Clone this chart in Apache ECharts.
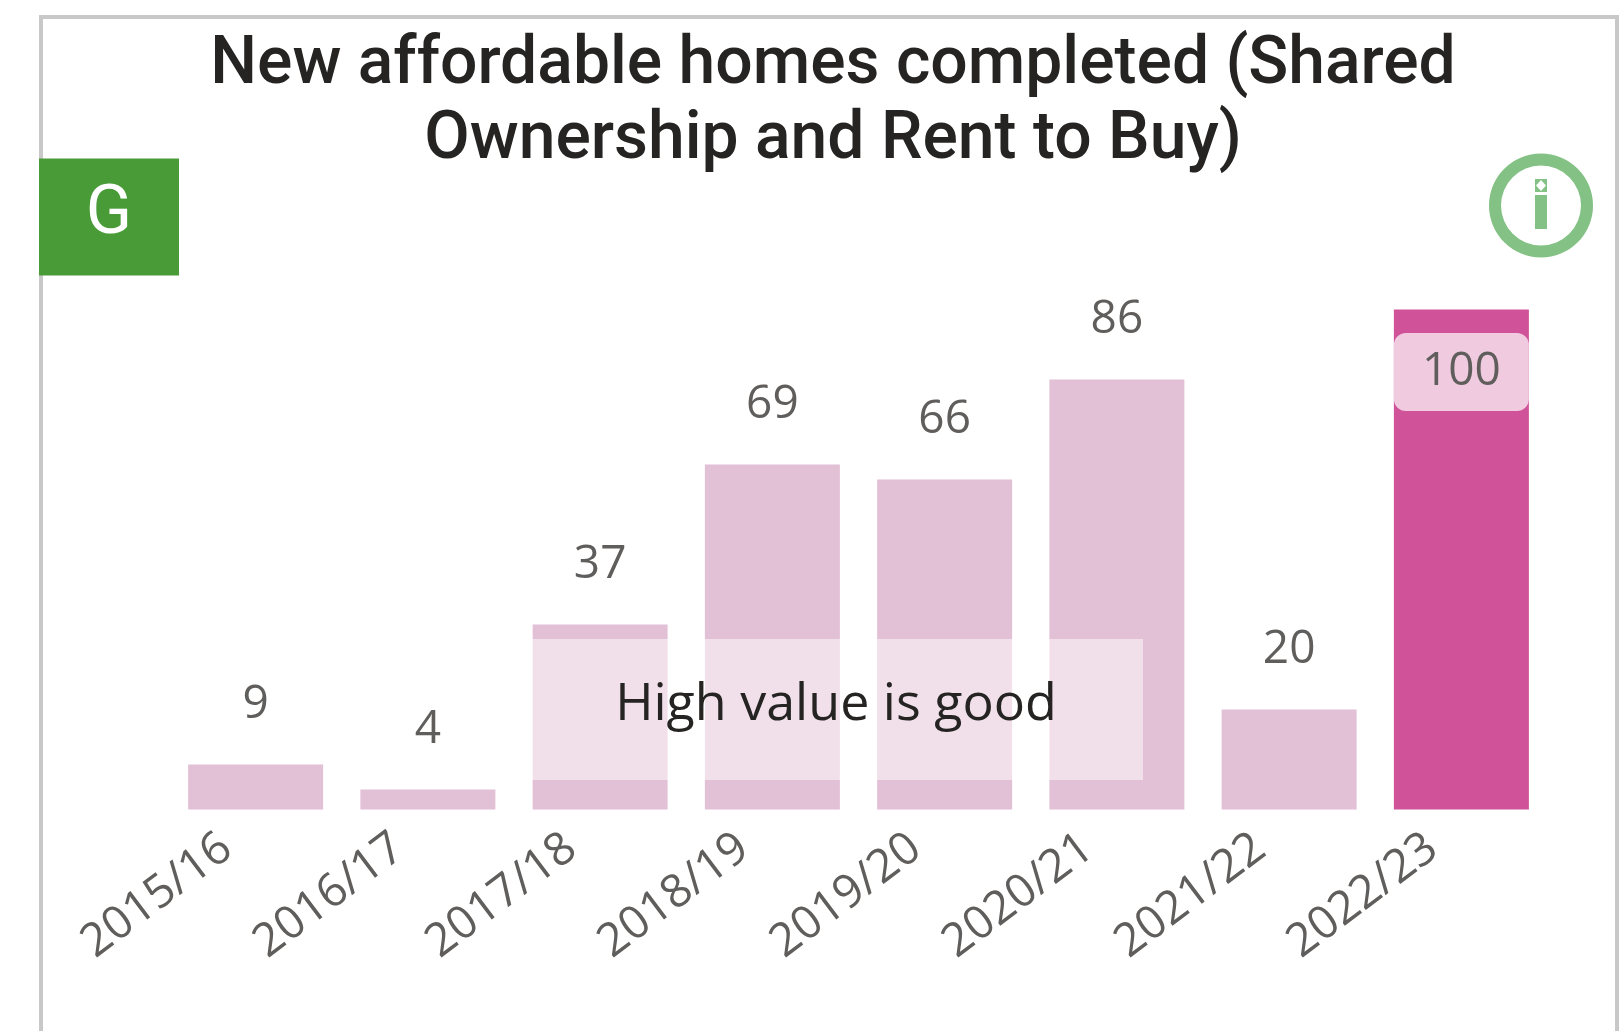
<!DOCTYPE html>
<html>
<head>
<meta charset="utf-8">
<title>New affordable homes completed</title>
<script src="https://cdn.jsdelivr.net/npm/echarts@6/dist/echarts.min.js"></script>
<style>
  html, body { margin: 0; padding: 0; background: #fff; }
  #chart { width: 1623px; height: 1031px; }
</style>
</head>
<body>
<div id="chart"></div>
<script>
var years = ['2015/16', '2016/17', '2017/18', '2018/19', '2019/20', '2020/21', '2021/22', '2022/23'];
var homes = [9, 4, 37, 69, 66, 86, 20, 100];
var latestYear = '2022/23';

var labelFont = '"Open Sans", sans-serif';
var titleFont = 'Roboto, sans-serif';

var chart = echarts.init(document.getElementById('chart'));

var barData = homes.map(function (v, i) {
  if (years[i] !== latestYear) {
    return v;
  }
  // the selected year is darker and keeps its label inside the bar
  return {
    value: v,
    itemStyle: { color: '#d05298' },
    label: {
      position: 'insideTop',
      distance: 62.5,
      width: 135,
      height: 78,
      lineHeight: 84,
      align: 'center',
      verticalAlign: 'middle',
      backgroundColor: '#f0cbe0',
      borderRadius: 12
    }
  };
});

chart.setOption({
  animation: false,
  backgroundColor: '#fff',
  title: {
    text: 'New affordable homes completed (Shared\nOwnership and Rent to Buy)',
    left: 828,
    top: 24,
    textAlign: 'center',
    textStyle: {
      fontFamily: titleFont,
      fontWeight: 500,
      fontSize: 66,
      lineHeight: 75,
      color: '#252423'
    }
  },
  grid: { left: 169.5, right: 75.5, top: 309.5, bottom: 221.5 },
  xAxis: {
    type: 'category',
    data: years,
    axisLine: { show: false },
    axisTick: { show: false },
    axisLabel: {
      rotate: 37,
      margin: 12,
      interval: 0,
      padding: [0, 36, 0, 0],
      fontFamily: labelFont,
      fontSize: 46,
      color: '#605e5c'
    }
  },
  yAxis: {
    type: 'value',
    min: 0,
    max: 100,
    show: false
  },
  series: [{
    type: 'bar',
    data: barData,
    barWidth: 135,
    itemStyle: { color: '#e2c0d5' },
    label: {
      show: true,
      position: 'top',
      distance: 37,
      fontFamily: labelFont,
      fontSize: 46,
      color: '#605e5c'
    }
  }],
  graphic: [
    // card border
    { type: 'rect', z: 1, shape: { x: 41, y: 17, width: 1576, height: 1100 },
      style: { fill: 'none', stroke: '#c8c8c8', lineWidth: 4 } },
    // status box
    { type: 'rect', z: 10, shape: { x: 39, y: 158.5, width: 140, height: 117 },
      style: { fill: '#489b37' } },
    { type: 'text', z: 11, x: 109, y: 216,
      style: { text: 'G', fill: '#fff', font: '68px ' + titleFont, textAlign: 'center', textVerticalAlign: 'middle' } },
    // info icon
    { type: 'ring', z: 10, shape: { cx: 1541, cy: 205.5, r: 52, r0: 40 },
      style: { fill: '#84c184' } },
    { type: 'rect', z: 10, shape: { x: 1535, y: 179, width: 12, height: 13 },
      style: { fill: '#84c184' } },
    { type: 'polygon', z: 11, shape: { points: [[1541, 180], [1546, 185.5], [1541, 191], [1536, 185.5]] },
      style: { fill: '#fff' } },
    { type: 'rect', z: 10, shape: { x: 1535, y: 195, width: 12, height: 34 },
      style: { fill: '#84c184' } },
    // direction note over the bars
    { type: 'rect', z: 20, shape: { x: 529, y: 639, width: 614, height: 141 },
      style: { fill: 'rgba(255,255,255,0.5)' } },
    { type: 'text', z: 21, x: 836, y: 705,
      style: { text: 'High value is good', fill: '#252423', font: '52px ' + labelFont, textAlign: 'center', textVerticalAlign: 'middle' } }
  ]
});
</script>
</body>
</html>
